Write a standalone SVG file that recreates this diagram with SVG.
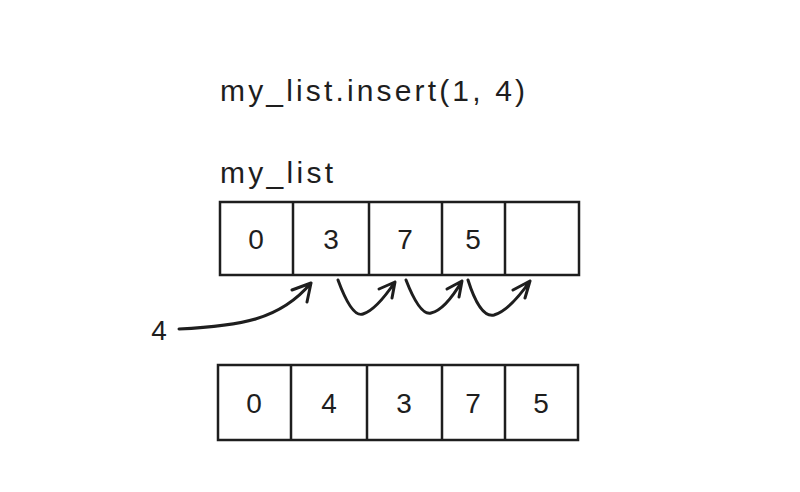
<svg xmlns="http://www.w3.org/2000/svg" width="800" height="492" viewBox="0 0 800 492">
<defs>
<style>
.t{font-family:"Liberation Sans",Arial,sans-serif;font-size:30px;fill:#1e1e1e}
.c{font-family:"Liberation Sans",Arial,sans-serif;font-size:28px;fill:#1e1e1e;text-anchor:middle}
.b{fill:#fff;stroke:#1e1e1e;stroke-width:2.5}
.l{stroke:#1e1e1e;stroke-width:2.5;fill:none}
.a{stroke:#1e1e1e;stroke-width:3;fill:none;stroke-linecap:round;stroke-linejoin:round}
</style>
</defs>
<rect width="800" height="492" fill="#fff"/>
<g id="title"><text class="t" x="220" y="101" textLength="305" lengthAdjust="spacing">my_list.insert(1, 4)</text></g>
<g id="label"><text class="t" x="220" y="183" textLength="113" lengthAdjust="spacing">my_list</text></g>
<g id="list1">
<rect class="b" x="220" y="202" width="359" height="73"/>
<path class="l" d="M293 202V275M369 202V275M442 202V275M505 202V275"/>
<text class="c" x="256" y="249">0</text><text class="c" x="331" y="249">3</text><text class="c" x="405" y="249">7</text><text class="c" x="473" y="249">5</text>
</g>
<g id="four"><text class="c" x="159" y="340">4</text></g>
<g id="list2">
<rect class="b" x="218" y="365" width="360" height="75"/>
<path class="l" d="M291 365V440M367 365V440M442 365V440M505 365V440"/>
<text class="c" x="254" y="413">0</text><text class="c" x="329" y="413">4</text><text class="c" x="404" y="413">3</text><text class="c" x="473" y="413">7</text><text class="c" x="541" y="413">5</text>
</g>
<g id="connectors">
<path class="a" d="M179 329C240 326 280 320 311 283M292 290L311 283L307 302"/>
<path class="a" d="M338 280Q352 318 363 314Q376 310 395 282M379 289L395 282L392 298"/>
<path class="a" d="M406 280Q420 316 431 313Q445 310 462 281M447 289L462 281L459 297"/>
<path class="a" d="M468 280Q480 318 494 315Q510 310 530 281M513 290L530 281L525 298"/>
</g>
</svg>
